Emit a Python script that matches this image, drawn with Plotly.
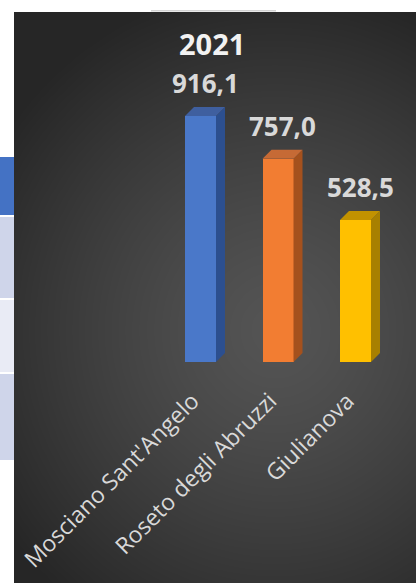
import numpy as np
import plotly.graph_objects as go

# ---- data ----
title_text = "2021"
categories = ["Mosciano Sant'Angelo", "Roseto degli Abruzzi", "Giulianova"]
values = [916.1, 757.0, 528.5]
value_labels = ["916,1", "757,0", "528,5"]

# ---- styling ----
front_colors = ["#4A78C9", "#F27D32", "#FFC000"]
side_colors = ["#2C4F8F", "#A5511D", "#A88000"]
top_colors = ["#3F5F9F", "#C66A35", "#C29200"]

W, H = 416, 583
ML, MT = 14, 12
PW, PH = W - ML, H - MT

# pixel geometry -> data ranges
cat_px = 77.5            # px per category
x0_px = 200.5            # px of category 0
base_px = 362            # px of value 0
val_px = 0.2686          # px per unit
x_lo = (ML - x0_px) / cat_px
x_hi = (W - x0_px) / cat_px
y_lo = -(H - base_px) / val_px
y_hi = (base_px - MT) / val_px

bw = 31 / cat_px
dx = 9 / cat_px
dy = 9 / val_px

xs = list(range(len(categories)))

fig = go.Figure()

# background radial gradient
gx = np.linspace(x_lo, x_hi, 90)
gy = np.linspace(y_lo, y_hi, 120)
GX, GY = np.meshgrid(gx, gy)
PX = x0_px + GX * cat_px
PY = base_px - GY * val_px
r = np.sqrt(((PX - 275) / 1.0) ** 2 + ((PY - 330) / 1.05) ** 2)
z = 1 - np.clip(r / 330, 0, 1) ** 1.3
fig.add_trace(go.Heatmap(x=gx, y=gy, z=z, zsmooth="best", showscale=False,
                         colorscale=[[0, "#262626"], [1, "#545454"]],
                         zmin=0, zmax=1, hoverinfo="skip"))

# front faces
fig.add_trace(go.Bar(x=xs, y=values, width=bw, marker=dict(color=front_colors, line=dict(width=0)),
                     hoverinfo="skip"))

# side & top faces derived from values
for i, v in enumerate(values):
    xr = i + bw / 2
    xl = i - bw / 2
    fig.add_trace(go.Scatter(x=[xr, xr + dx, xr + dx, xr, xr], y=[0, dy, v + dy, v, 0],
                             fill="toself", fillcolor=side_colors[i], mode="lines",
                             line=dict(width=0), hoverinfo="skip", showlegend=False))
    fig.add_trace(go.Scatter(x=[xl, xl + dx, xr + dx, xr, xl], y=[v, v + dy, v + dy, v, v],
                             fill="toself", fillcolor=top_colors[i], mode="lines",
                             line=dict(width=0), hoverinfo="skip", showlegend=False))
    fig.add_annotation(x=i + dx / 2, y=v + dy, text=value_labels[i], showarrow=False,
                       yanchor="bottom", yshift=4, xref="x", yref="y",
                       font=dict(family="Open Sans", size=26, color="#D9D9D9", weight="bold"))

# title
fig.add_annotation(x=(212 - ML) / PW, y=(H - 43) / PH, xref="paper", yref="paper",
                   text=title_text, showarrow=False, xanchor="center", yanchor="middle",
                   font=dict(family="Open Sans", size=29, color="#F2F2F2", weight="bold"))

# left table fragment and top strip
rows = [(157, 215, "#4472C4"), (217, 298, "#CFD5EA"), (300, 372, "#E9EBF5"), (374, 460, "#CFD5EA")]
for t, b, c in rows:
    fig.add_shape(type="rect", xref="paper", yref="paper", x0=-ML / PW, x1=0,
                  y0=(H - b) / PH, y1=(H - t) / PH, fillcolor=c, line=dict(width=0), layer="above")
fig.add_shape(type="line", xref="paper", yref="paper", x0=(151 - ML) / PW, x1=(276 - ML) / PW,
              y0=1.002, y1=1.002, line=dict(color="#BBBBBB", width=1))

fig.update_layout(
    width=W, height=H,
    margin=dict(l=ML, r=0, t=MT, b=0),
    paper_bgcolor="white", plot_bgcolor="#333333",
    showlegend=False, bargap=0,
    xaxis=dict(range=[x_lo, x_hi], tickmode="array", tickvals=xs, ticktext=categories,
               tickangle=-45, anchor="free", position=(H - 382) / PH,
               ticklabelshift=-8,
               showgrid=False, zeroline=False, showline=False, ticks="",
               tickfont=dict(family="Open Sans", size=23, color="#D9D9D9"), fixedrange=True),
    yaxis=dict(range=[y_lo, y_hi], showgrid=False, zeroline=False, showline=False,
               showticklabels=False, ticks="", fixedrange=True),
)

fig.write_html("out.html", config={"displayModeBar": False},
               post_script="document.body.style.margin='0';document.body.style.overflow='hidden';")
